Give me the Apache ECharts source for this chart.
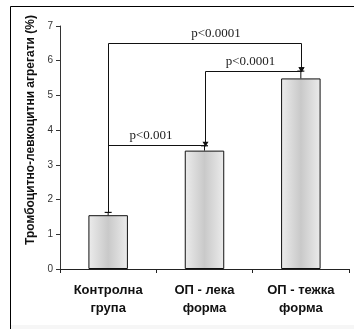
<!DOCTYPE html>
<html>
<head>
<meta charset="utf-8">
<script src="https://cdn.jsdelivr.net/npm/echarts@6/dist/echarts.min.js"></script>
<style>
  html, body { margin: 0; padding: 0; background: #fff; }
  #chart { width: 354px; height: 329px; }
</style>
</head>
<body>
<div id="chart"></div>
<script>
// Group labels and mean platelet-leukocyte aggregate values (%)
const categories = ['Контролна\nгрупа', 'ОП - лека\nформа', 'ОП - тежка\nформа'];
const means = [1.55, 3.41, 5.49];
const errors = [0.08, 0.14, 0.21];

// Significance brackets: from group, to group, bracket height, p-value text
const bracketFrom = [0, 0, 1];
const bracketTo = [1, 2, 2];
const bracketLevel = [3.56, 6.5, 5.7];
const bracketText = ['p<0.001', 'p<0.0001', 'p<0.0001'];

const yTicks = [0, 1, 2, 3, 4, 5, 6, 7];

// Horizontal pixel nudges for the p-value captions
const captionShift = [-6, 11, -3];

const chart = echarts.init(document.getElementById('chart'), null, { renderer: 'canvas' });

const barFill = {
  type: 'linear', x: 0, y: 0, x2: 1, y2: 0,
  colorStops: [
    { offset: 0, color: '#ececec' },
    { offset: 0.5, color: '#c9c9c9' },
    { offset: 1, color: '#ececec' }
  ]
};

function errTop(i) { return means[i] + errors[i]; }

chart.setOption({
  animation: false,
  backgroundColor: '#fff',
  graphic: [
    { type: 'rect', shape: { x: 11, y: 325, width: 343, height: 4 }, style: { fill: '#f6f6f6' } },
    { type: 'line', shape: { x1: 10.5, y1: 6.5, x2: 354, y2: 6.5 }, style: { stroke: '#000', lineWidth: 1 } },
    { type: 'line', shape: { x1: 10.5, y1: 6.5, x2: 10.5, y2: 329 }, style: { stroke: '#000', lineWidth: 1 } }
  ],
  grid: { left: 60, top: 26, right: 5, bottom: 60 },
  xAxis: {
    type: 'category',
    data: categories,
    axisLine: { lineStyle: { color: '#222', width: 1 } },
    axisTick: { show: true, length: 4, lineStyle: { color: '#222' } },
    axisLabel: {
      margin: 12,
      fontFamily: 'Liberation Sans, Arial, sans-serif',
      fontWeight: 'bold',
      fontSize: 13,
      lineHeight: 18,
      color: '#111'
    },
    splitLine: { show: false }
  },
  yAxis: {
    type: 'value',
    min: yTicks[0],
    max: yTicks[yTicks.length - 1],
    interval: 1,
    name: 'Тромбоцитно-левкоцитни агрегати (%)',
    nameLocation: 'middle',
    nameGap: 21,
    nameTextStyle: {
      fontFamily: 'Liberation Sans, Arial, sans-serif',
      fontWeight: 'bold',
      fontSize: 12,
      color: '#111',
      padding: [0, 0, 0, 35]
    },
    axisLine: { show: true, lineStyle: { color: '#333', width: 1 } },
    axisTick: { show: true, length: 4, lineStyle: { color: '#333' } },
    axisLabel: {
      margin: 7,
      fontFamily: 'Liberation Sans, Arial, sans-serif',
      fontSize: 10,
      color: '#333'
    },
    splitLine: { show: false }
  },
  series: [
    {
      type: 'bar',
      data: means,
      barWidth: '41%',
      itemStyle: { color: barFill, borderColor: '#111', borderWidth: 1 },
      z: 2
    },
    {
      // error bar caps and stems
      type: 'custom',
      data: means.map((m, i) => [i, m, errTop(i)]),
      clip: false,
      z: 3,
      renderItem: function (params, api) {
        const i = api.value(0);
        const base = api.coord([i, api.value(1)]);
        const top = api.coord([i, api.value(2)]);
        return {
          type: 'group',
          children: [
            { type: 'line', shape: { x1: base[0], y1: base[1], x2: top[0], y2: top[1] }, style: { stroke: '#111', lineWidth: 1 } },
            { type: 'line', shape: { x1: top[0] - 3.5, y1: top[1], x2: top[0] + 3.5, y2: top[1] }, style: { stroke: '#111', lineWidth: 1.2 } }
          ]
        };
      }
    },
    {
      // significance brackets with arrowheads and p-values
      type: 'custom',
      data: bracketFrom.map((f, k) => [f, bracketTo[k], bracketLevel[k], k]),
      clip: false,
      z: 4,
      renderItem: function (params, api) {
        const f = api.value(0), t = api.value(1), lvl = api.value(2), k = api.value(3);
        const start = api.coord([f, errTop(f)]);
        const left = api.coord([f, lvl]);
        const right = api.coord([t, lvl]);
        const end = api.coord([t, errTop(t)]);
        const tipY = end[1];
        const x0 = Math.round(left[0]) + 0.5;
        const x1 = Math.round(right[0]) + 0.5;
        const yl = Math.round(left[1]) + 0.5;
        return {
          type: 'group',
          children: [
            { type: 'polyline', shape: { points: [[x0, start[1]], [x0, yl], [x1, yl], [x1, tipY]] }, style: { stroke: '#111', lineWidth: 1, fill: null } },
            { type: 'polygon', shape: { points: [[x1 - 3, tipY - 4], [x1 + 3, tipY - 4], [x1, tipY + 1]] }, style: { fill: '#111' } },
            {
              type: 'text',
              style: {
                x: (x0 + x1) / 2 + captionShift[k],
                y: yl - 3,
                text: bracketText[k],
                fontFamily: 'Liberation Serif, Times New Roman, serif',
                fontSize: 13,
                fill: '#222',
                align: 'center',
                verticalAlign: 'bottom'
              }
            }
          ]
        };
      }
    }
  ]
});
</script>
</body>
</html>
